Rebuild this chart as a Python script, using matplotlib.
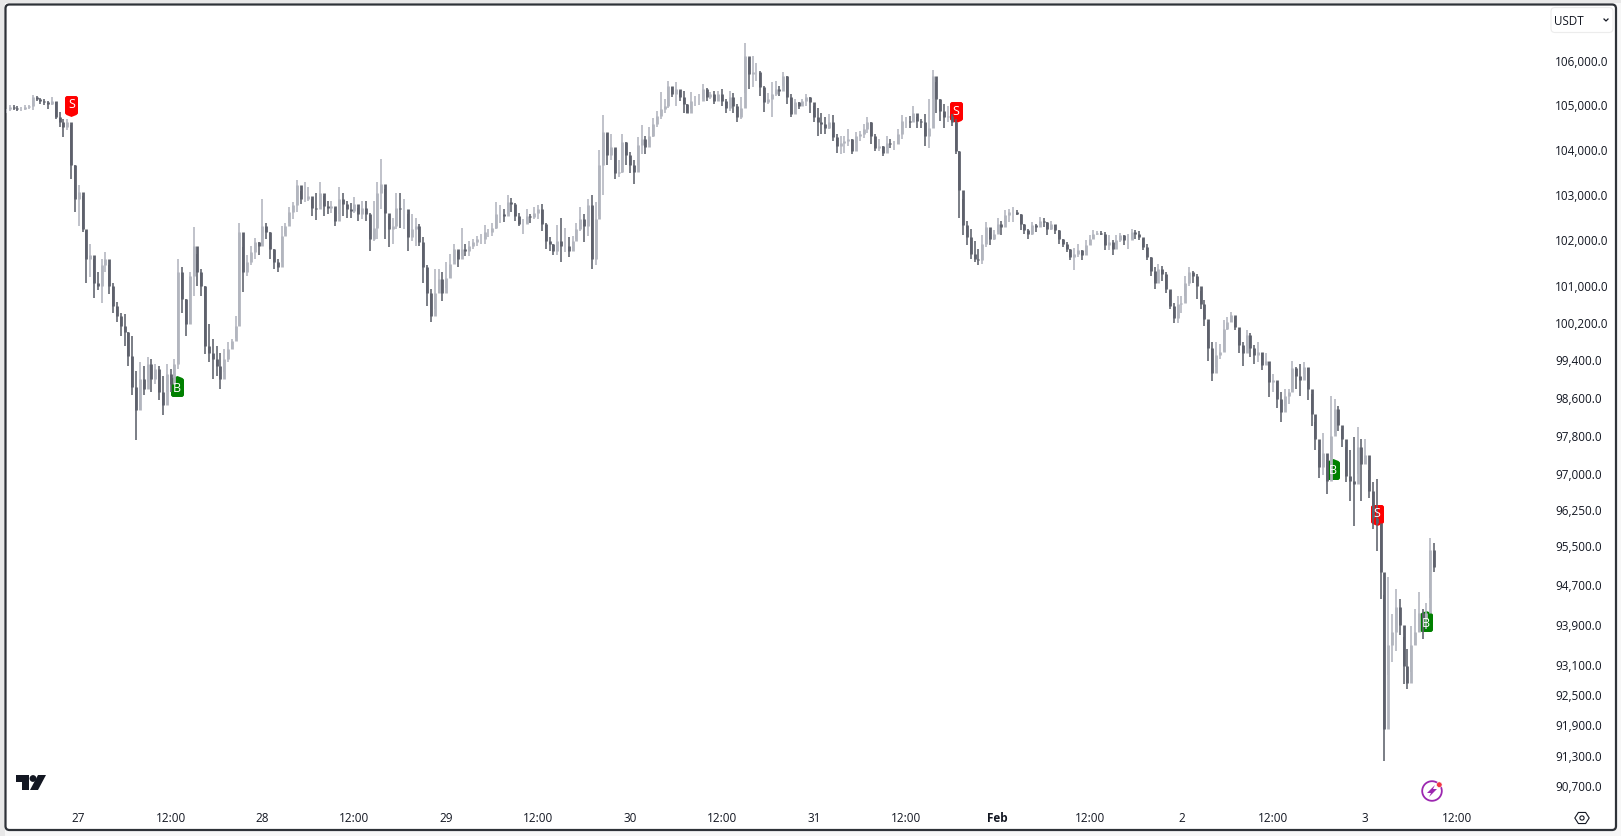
#!/usr/bin/env python3

import matplotlib
matplotlib.use('Agg')
import matplotlib.pyplot as plt
import numpy as np

from matplotlib.patches import Circle, FancyBboxPatch, Polygon, Rectangle
from matplotlib.path import Path
from matplotlib.ticker import FixedLocator, FixedFormatter, NullLocator

plt.rcParams['font.family'] = ['Open Sans', 'DejaVu Sans']

# 30 minute bars, first one at 14:30 on Jan 26
first_hour = -9.5
bar_hours = 0.5

highs = [
    104900,104990,104970,104950,104930,104970,104970,105210,105190,105130,
    105120,105080,105160,105040,104820,104670,104670,104520,103630,103180,
    102950,102180,101890,101560,101270,101560,101710,101420,101050,100620,
    100400,100360,99970,99900,99150,99330,99260,99440,99400,99300,
    99260,99050,99300,99190,99400,101560,101380,100690,101270,102260,
    101670,101340,100980,100150,99830,99690,99540,99620,99760,99830,
    100330,102360,101820,101640,101850,102030,101930,102880,102360,102150,
    101780,101560,102290,102360,102700,102810,103290,103060,103250,103140,
    102870,103020,103250,102950,102830,102830,102690,103140,103020,102830,
    102800,102920,102690,102830,102830,102580,102830,103250,103770,103100,
    102500,102470,103020,103020,102870,102550,102550,102470,102330,102040,
    101420,100900,101340,101340,101270,101490,101670,101890,101740,102230,
    101890,101960,102000,102070,102110,102310,102220,102360,102810,102740,
    102660,102960,102900,102800,102570,102440,102660,102550,102700,102740,
    102760,102360,102040,101890,102310,102460,102250,102040,102070,102360,
    102700,102550,102870,102960,102810,103960,104760,104330,104330,104000,
    103740,104330,104150,103930,103740,104260,104520,104290,104480,104680,
    104850,105270,105110,105530,105380,105490,105300,105300,105000,105270,
    105180,105230,105460,105360,105270,105300,105300,105340,105110,105300,
    105260,105000,105150,106380,106050,106090,105940,105760,105420,105260,
    105490,105530,105420,105720,105640,105230,105110,105040,105110,105230,
    105150,104960,104920,104810,104700,104770,104750,104320,104280,104280,
    104450,104210,104370,104400,104550,104700,104590,104320,104210,104060,
    104280,104210,104170,104430,104750,104700,104730,104960,104700,104660,
    104770,105110,105780,105490,105110,105000,104960,104770,104660,103940,
    102880,102400,102220,101960,101780,102080,102380,102190,102190,102460,
    102400,102630,102660,102700,102630,102550,102330,102220,102370,102330,
    102480,102460,102370,102390,102300,102190,102000,101930,101780,101800,
    101900,101750,101970,102080,102190,102170,102170,102150,102080,101970,
    102080,102140,102080,102110,102210,102190,102170,102000,101890,101600,
    101380,101460,101410,101270,100870,100610,100760,100760,101200,101380,
    101300,101230,100870,100660,100190,99760,99760,99720,100230,100300,
    100410,100300,100020,99770,100020,99950,99700,99770,99520,99520,
    99340,99080,98910,98690,98760,98760,99350,99230,99300,99340,
    99200,98650,98060,97480,97840,97260,98620,98550,98410,97910,
    97550,97480,97740,97950,97700,97700,97060,96810,96880,95920,
    94480,94850,94100,94600,94400,93630,93400,93860,94200,94550,
    94200,94330,95650,95550,
]

lows = [
    104790,104840,104860,104840,104850,104860,104880,104860,105060,105010,
    104970,104900,104970,104660,104490,104260,104410,103330,102590,102290,
    102150,101050,101170,100720,100880,100610,101270,100800,100400,100190,
    99900,99690,99260,98630,97680,98320,98630,98910,98700,98870,
    98530,98210,98700,98700,99050,99190,100400,99900,100150,100760,
    100980,100760,99510,99330,98980,99050,98770,99120,99330,99620,
    99860,100120,100840,101200,101420,101560,101640,101850,102000,101560,
    101340,101270,101490,102110,102360,102440,102590,102760,102810,102840,
    102500,102410,102720,102500,102540,102580,102290,102540,102500,102470,
    102470,102580,102390,102430,102390,101740,101960,102000,102650,102000,
    101820,101890,102220,102250,102220,101740,101960,101850,101850,101040,
    100540,100190,100470,100820,100640,100930,101150,101520,101380,101630,
    101630,101630,101780,101850,101890,101890,102040,102070,102220,102360,
    102380,102550,102590,102400,102290,102110,102360,102360,102440,102440,
    102180,101780,101740,101640,101640,101490,101710,101600,101740,102000,
    102180,101930,102070,101350,101420,102510,102960,103630,103740,103330,
    103370,103450,103630,103450,103220,103630,103890,103890,104070,104260,
    104480,104670,104810,104920,105150,104960,105080,104810,104790,104890,
    104960,104980,105110,105060,105110,105000,105080,104960,104810,104850,
    104810,104600,104670,105260,105340,105380,105530,105190,104830,105000,
    104700,105190,105190,105420,105000,104700,104810,104900,104960,104960,
    104810,104590,104280,104320,104320,104430,104170,103910,103870,103910,
    104060,103870,104130,104170,104240,104360,104100,103940,103940,103830,
    104020,104020,103980,104100,104210,104470,104470,104620,104470,104470,
    104060,104020,105110,104810,104620,104470,104590,104510,103870,102470,
    102080,101860,101570,101490,101440,101460,101820,101860,101970,102150,
    102080,102370,102370,102370,102520,102190,102110,102000,102080,102150,
    102300,102260,102080,102190,102110,101900,101820,101710,101530,101330,
    101600,101530,101710,101860,102000,102080,102080,101750,101750,101640,
    101860,101930,101860,101790,102000,102000,101970,101750,101530,101200,
    100900,101090,101090,100830,100470,100170,100170,100400,100760,100980,
    101050,100690,100480,100120,99370,98930,99230,99400,99580,100020,
    100190,100020,99520,99260,99670,99450,99300,99340,99160,99300,
    98590,98690,98370,98060,98400,98440,98690,98760,98620,99080,
    98520,97990,97480,96890,96950,96560,97010,97840,97870,97550,
    96800,96410,95890,96980,96410,97190,96480,95830,95380,94410,
    91170,92870,93130,93360,93670,92700,92590,92930,93470,93730,
    93600,93800,94420,94950,
]

closes = [
    104880,104930,104910,104880,104900,104930,104950,105160,105120,105060,
    105040,105000,105080,104710,104600,104480,104600,103630,102880,103030,
    102220,101560,101640,101050,100980,101420,101560,100980,100550,100330,
    100120,99970,99470,98800,98320,98980,98770,99300,98980,99190,
    98700,98420,99080,98880,99300,101270,100690,100150,101190,101850,
    101270,100980,99690,99540,99400,99260,98980,99400,99620,99790,
    100120,102150,101270,101490,101710,101930,101850,102290,102150,101780,
    101490,101380,102070,102290,102590,102740,103180,102870,102870,102950,
    102690,102650,103020,102720,102690,102720,102390,102870,102760,102650,
    102620,102760,102540,102690,102540,102000,102250,103020,103210,102580,
    102220,102290,102690,102650,102650,102040,102220,102290,101930,101380,
    100820,100330,100820,101120,100820,101150,101450,101780,101560,101780,
    101740,101850,101930,102000,102000,102150,102150,102250,102550,102550,
    102510,102810,102770,102510,102330,102330,102510,102480,102570,102660,
    102330,101960,101890,101740,101960,101850,101850,101740,101960,102220,
    102440,102290,102740,101560,102440,103630,104370,103850,104040,103450,
    103480,104150,103850,103630,103480,104070,104220,104040,104290,104550,
    104740,104890,104960,105420,105230,105340,105150,105000,104810,105080,
    105080,105080,105340,105150,105230,105080,105230,105070,104920,105150,
    104960,104700,104920,106090,105680,105720,105720,105380,105040,105110,
    105230,105340,105300,105640,105150,104770,105040,104960,105070,105150,
    105040,104700,104590,104550,104470,104590,104250,104060,104130,104170,
    104210,103940,104280,104320,104430,104590,104280,104020,104060,103910,
    104130,104100,104100,104320,104620,104620,104590,104810,104620,104590,
    104280,104470,105640,105110,104850,104700,104730,104590,103940,103080,
    102300,102040,101670,101570,101530,101900,102260,102000,102110,102330,
    102260,102520,102590,102590,102550,102330,102190,102110,102300,102260,
    102400,102370,102220,102330,102190,102000,101900,101780,101600,101670,
    101750,101640,101860,102000,102110,102130,102110,101860,101930,101780,
    101970,102080,101970,101970,102150,102110,102040,101820,101600,101300,
    101050,101340,101230,100900,100540,100280,100580,100610,101050,101270,
    101200,100980,100590,100260,99630,99110,99490,99550,100050,100190,
    100340,100080,99700,99520,99910,99630,99480,99550,99270,99370,
    98910,98950,98560,98270,98620,98690,99200,99050,98950,99230,
    98760,98230,97700,97120,97410,96830,97770,98340,98010,97700,
    96940,96830,96760,97550,97190,97370,96620,96060,95950,94960,
    91800,93470,93730,94240,93870,93060,92720,93470,93730,94130,
    94000,94130,95400,95050,
]

# trades: hour from Jan 27 00:00, price on the chart
signal_hours = [-0.94, 12.84, 114.56, 163.8, 169.57, 175.93]
signal_prices = [104957, 98818, 104811, 97080, 96125, 93950]
signal_sides = ['S', 'B', 'S', 'B', 'S', 'B']

price_ticks = [106000, 105000, 104000, 103000, 102000, 101000, 100200, 99400, 98600, 97800,
               97000, 96250, 95500, 94700, 93900, 93100, 92500, 91900, 91300, 90700]

time_ticks = list(range(0, 192, 12))
time_labels = ['27', '12:00', '28', '12:00', '29', '12:00', '30', '12:00', '31', '12:00',
               'Feb', '12:00', '2', '12:00', '3', '12:00']

UP = '#b2b5be'
DOWN = '#5d606b'
TEXT = '#131722'
W, H = 1621, 837


def px_axes(fig, zorder):
    # overlay in image pixels, used for the page frame and the icons
    ax = fig.add_axes([0, 0, 1, 1], zorder=zorder)
    ax.set_xlim(0, W)
    ax.set_ylim(H, 0)
    ax.axis('off')
    return ax


def flag(side):
    verts = [(-5, 10.5), (5, 10.5), (6.5, 9), (6.5, -7), (5, -8.5), (0, -10.5), (-5, -8.5), (-6.5, -7), (-6.5, 9), (-5, 10.5)]
    if side == 'B':
        verts = [(x, -y) for x, y in verts]
    return Path(verts, closed=True)


def draw_frame(fig):
    back = px_axes(fig, 0)
    back.add_patch(Rectangle((0, 0), W, H, fc='#f7f7f7', ec='none'))
    back.add_patch(Rectangle((0, 0), 5, H, fc='#e8e8e8', ec='none'))
    back.add_patch(Rectangle((0, 0), W, 4, fc='#e8e8e8', ec='none'))
    back.add_patch(FancyBboxPatch((5.5, 5.5), 1610.5, 825.5, boxstyle='round,pad=0,rounding_size=4',
                                  fc='white', ec='#2e3238', lw=1.6))


def draw_icons(fig):
    top = px_axes(fig, 3)

    # currency box
    top.add_patch(FancyBboxPatch((1551, 8.5), 62, 25, boxstyle='round,pad=0,rounding_size=4',
                                 fc='white', ec='#ececec', lw=0.8))
    top.text(1554, 21, 'USDT', fontsize=8.4, color=TEXT, va='center', ha='left')
    top.plot([1604, 1606, 1608], [20, 22, 20], color=TEXT, lw=0.9)

    # logo
    logo = '#131722'
    top.add_patch(Polygon([(16, 776), (29, 776), (29, 791), (22, 791), (22, 783), (16, 783)], fc=logo, ec='none'))
    top.add_patch(Circle((33, 779.5), 3.4, fc=logo, ec='none'))
    top.add_patch(Polygon([(38, 776), (46, 776), (38, 791), (30, 791)], fc=logo, ec='none'))

    # bolt badge
    top.add_patch(Circle((1432, 792), 9.8, fc='none', ec='#9c27b0', lw=1.3))
    top.add_patch(Polygon([(1435, 786), (1427, 794), (1431, 794), (1429, 798), (1437, 790), (1433, 790)],
                          fc='#9c27b0', ec='none'))
    top.add_patch(Circle((1439.3, 785.7), 2.8, fc='#f23645', ec='white', lw=0.4))

    # scale settings
    a = np.deg2rad([0, 60, 120, 180, 240, 300])
    top.add_patch(Polygon(np.c_[1582 + 7.2 * np.cos(a), 819 + 6.4 * np.sin(a)], fc='white', ec=TEXT, lw=0.8))
    top.add_patch(Circle((1582, 819), 2.1, fc='white', ec=TEXT, lw=0.8))


def main():
    assert len(highs) == len(lows) == len(closes)

    fig = plt.figure(figsize=(W / 100, H / 100), dpi=100)
    draw_frame(fig)

    # plot area runs from x=6 to x=1550 and y=6 to y=800 in the image
    ax = fig.add_axes([6 / W, 1 - 800 / H, 1544 / W, 794 / H], zorder=1)
    ax.patch.set_alpha(0)
    ax.set_yscale('log')
    ax.set_xlim(-9.49, 192.13)
    ax.set_ylim(90433, 107260)

    hours = first_hour + bar_hours * np.arange(len(closes))
    c = np.array(closes, dtype=float)
    o = np.r_[c[0], c[:-1]]
    colors = [UP if b >= a else DOWN for a, b in zip(o, c)]

    for h, side, p in zip(signal_hours, signal_sides, signal_prices):
        ax.plot([h], [p], marker=flag(side), ms=15.1, mew=0, ls='none', zorder=1,
                color='#ff0000' if side == 'S' else '#008000')

    ax.vlines(hours, lows, highs, colors=colors, lw=1.15, zorder=2)
    ax.vlines(hours, np.minimum(o, c), np.maximum(o, c), colors=colors, lw=2.0, zorder=2)

    for h, side, p in zip(signal_hours, signal_sides, signal_prices):
        ax.annotate(side, (h, p), xytext=(0, 1.5 if side == 'S' else -0.7), textcoords='offset points',
                    color='white', fontsize=9, ha='center', va='center', zorder=4)

    for s in ax.spines.values():
        s.set_visible(False)

    ax.yaxis.tick_right()
    ax.yaxis.set_major_locator(FixedLocator(price_ticks))
    ax.yaxis.set_major_formatter(FixedFormatter([f'{t:,.1f}' for t in price_ticks]))
    ax.yaxis.set_minor_locator(NullLocator())
    ax.tick_params(axis='y', which='major', length=0, pad=3.6, labelsize=8.5, labelcolor=TEXT)
    for lab in ax.get_yticklabels():
        lab.set_ha('left')

    ax.xaxis.set_major_locator(FixedLocator(time_ticks))
    ax.xaxis.set_major_formatter(FixedFormatter(time_labels))
    ax.tick_params(axis='x', length=0, pad=9, labelsize=8.5, labelcolor=TEXT)
    for lab in ax.get_xticklabels():
        if lab.get_text() == 'Feb':
            lab.set_fontweight('bold')

    draw_icons(fig)
    fig.savefig('out.png', dpi=100)


if __name__ == '__main__':
    main()
